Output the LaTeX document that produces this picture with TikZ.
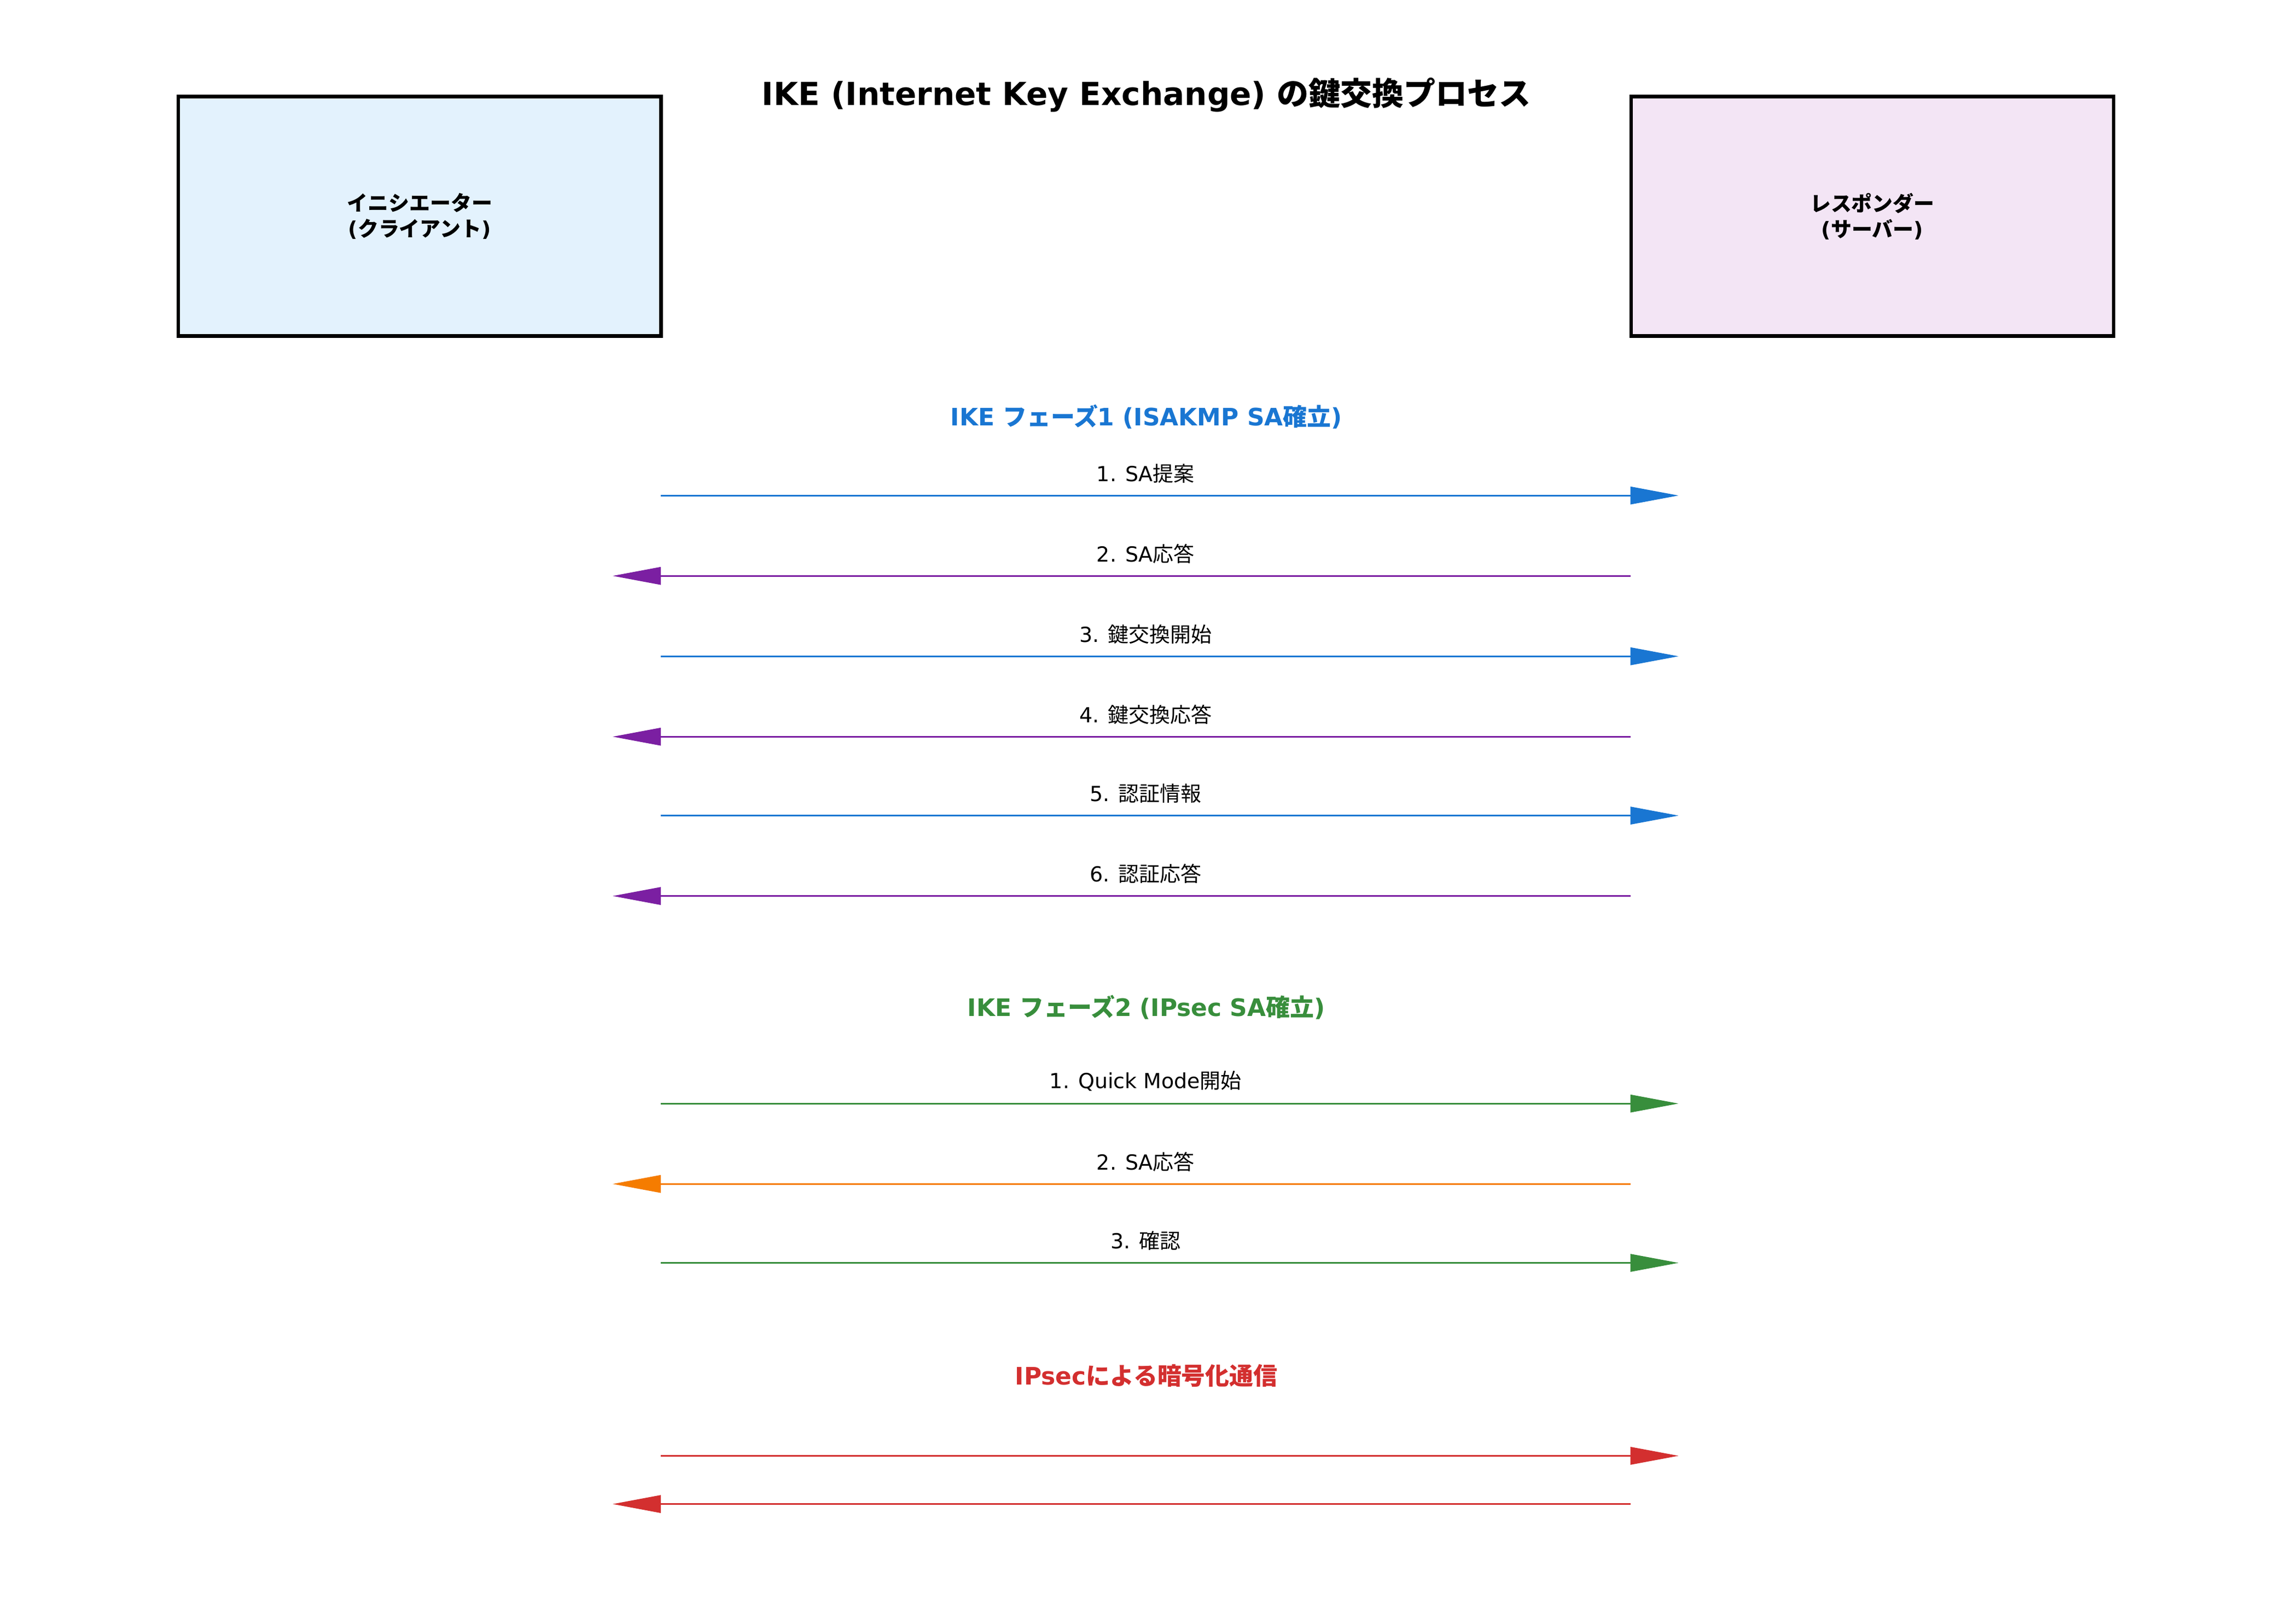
\documentclass[tikz,border=0pt]{standalone}
\usepackage{fontspec}
\setmainfont{DejaVu Sans}
\newfontfamily\cjk{Noto Sans CJK JP}
\newcommand{\jp}[1]{{\cjk #1}}
\usetikzlibrary{arrows.meta}
\definecolor{cblue}{HTML}{1976D2}
\definecolor{cpurple}{HTML}{7B1FA2}
\definecolor{cgreen}{HTML}{388E3C}
\definecolor{corange}{HTML}{F57C00}
\definecolor{cred}{HTML}{D32F2F}
\definecolor{lblue}{HTML}{E3F2FD}
\definecolor{lpurple}{HTML}{F3E5F5}
\tikzset{
  hostbox/.style={draw=black,line width=1.9pt,minimum width=330*0.02673cm,minimum height=164*0.02673cm,font=\bfseries\fontsize{10.8}{13.5}\selectfont,align=center},
  msg/.style={line width=0.9pt,-{Triangle[length=8.8mm,width=3.2mm]}},
  lbl/.style={font=\fontsize{10.8}{13}\selectfont,text=black,above=3pt},
  phase/.style={font=\bfseries\fontsize{12.5}{15}\selectfont},
}
\begin{document}
\begin{tikzpicture}[x=0.02673cm,y=-0.02673cm]
\useasboundingbox (0,0) rectangle (1560,1111);
\node[font=\bfseries\fontsize{16.5}{20}\selectfont] (title) at (784,65) {IKE (Internet Key Exchange) \jp{の鍵交換プロセス}};
\node[hostbox,fill=lblue] (ini) at (287,148) {\jp{イニシエーター}\\(\jp{クライアント})};
\node[hostbox,fill=lpurple] (res) at (1280.5,148) {\jp{レスポンダー}\\(\jp{サーバー})};
\foreach \n/\y in {a/339,b/394,c/449,d/504,e/558,f/613,g/755,h/810,i/864,j/996,k/1029}{
  \coordinate (L\n) at (452,\y); \coordinate (R\n) at (1115,\y);
  \coordinate (LT\n) at (419,\y); \coordinate (RT\n) at (1148,\y);
}
\node[phase,text=cblue] (p1) at (784,285) {IKE \jp{フェーズ}1 (ISAKMP SA\jp{確立})};
\draw[msg,cblue] (La) -- (RTa); \path (La) -- (Ra) node[lbl,midway] (ma) {1. SA\jp{提案}};
\draw[msg,cpurple] (Rb) -- (LTb); \path (Lb) -- (Rb) node[lbl,midway] (mb) {2. SA\jp{応答}};
\draw[msg,cblue] (Lc) -- (RTc); \path (Lc) -- (Rc) node[lbl,midway] (mc) {3. \jp{鍵交換開始}};
\draw[msg,cpurple] (Rd) -- (LTd); \path (Ld) -- (Rd) node[lbl,midway] (md) {4. \jp{鍵交換応答}};
\draw[msg,cblue] (Le) -- (RTe); \path (Le) -- (Re) node[lbl,midway] (me) {5. \jp{認証情報}};
\draw[msg,cpurple] (Rf) -- (LTf); \path (Lf) -- (Rf) node[lbl,midway] (mf) {6. \jp{認証応答}};
\node[phase,text=cgreen] (p2) at (784,689) {IKE \jp{フェーズ}2 (IPsec SA\jp{確立})};
\draw[msg,cgreen] (Lg) -- (RTg); \path (Lg) -- (Rg) node[lbl,midway] (mg) {1. Quick Mode\jp{開始}};
\draw[msg,corange] (Rh) -- (LTh); \path (Lh) -- (Rh) node[lbl,midway] (mh) {2. SA\jp{応答}};
\draw[msg,cgreen] (Li) -- (RTi); \path (Li) -- (Ri) node[lbl,midway] (mi) {3. \jp{確認}};
\node[phase,text=cred] (p3) at (784,941) {IPsec\jp{による暗号化通信}};
\draw[msg,cred] (Lj) -- (RTj);
\draw[msg,cred] (Rk) -- (LTk);
\end{tikzpicture}
\end{document}
